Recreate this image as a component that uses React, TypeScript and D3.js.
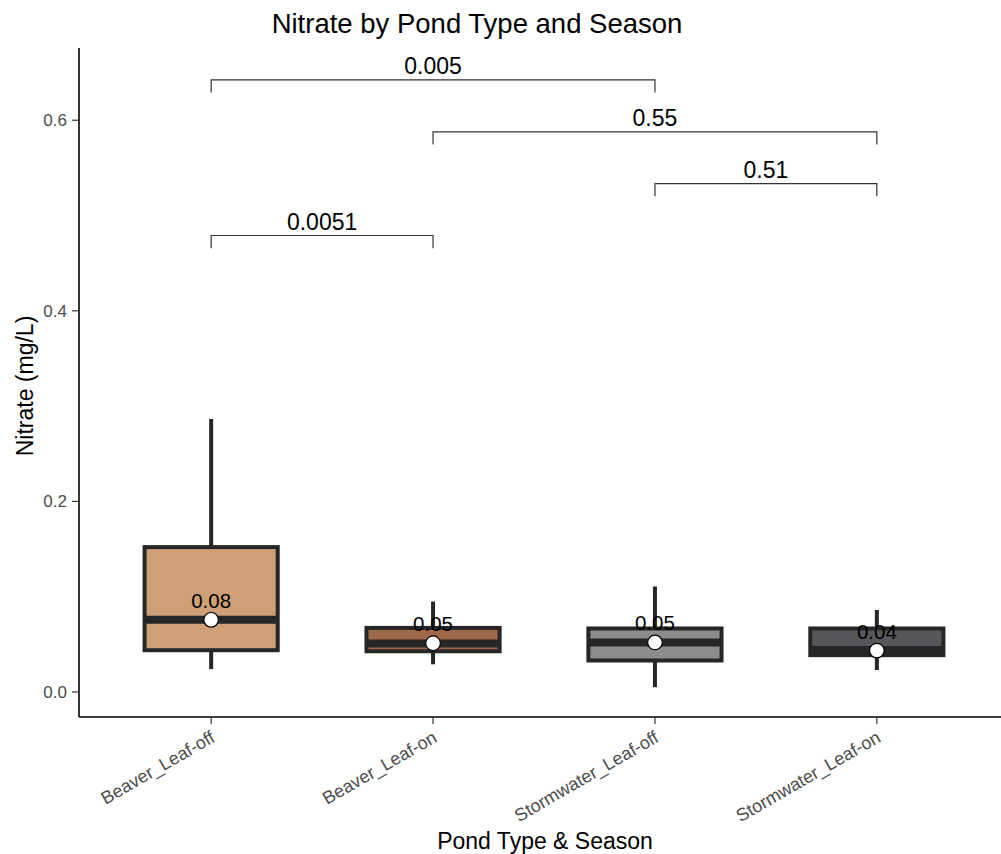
import React from "react";
import * as d3 from "d3";

const categories = ["Beaver_Leaf-off", "Beaver_Leaf-on", "Stormwater_Leaf-off", "Stormwater_Leaf-on"];
const fills = ["#CFA077", "#A0694A", "#8C8C8E", "#57575B"];
const whiskerLow = [0.024, 0.029, 0.005, 0.023];
const q1 = [0.0438, 0.0427, 0.033, 0.0386];
const median = [0.0757, 0.0508, 0.052, 0.044];
const q3 = [0.152, 0.0672, 0.0666, 0.0666];
const whiskerHigh = [0.2865, 0.0949, 0.1107, 0.086];
const means = [0.0757, 0.0511, 0.052, 0.0434];
const meanLabels = ["0.08", "0.05", "0.05", "0.04"];

const comparisons = [
  { a: 0, b: 2, y: 0.6423, label: "0.005" },
  { a: 1, b: 3, y: 0.5877, label: "0.55" },
  { a: 2, b: 3, y: 0.5334, label: "0.51" },
  { a: 0, b: 1, y: 0.479, label: "0.0051" },
];
const yTicks = [0, 0.2, 0.4, 0.6];

export default function App() {
  const W = 1001, H = 854;
  const left = 79, right = 1011, top = 48, bottom = 717;
  const x = d3.scaleBand<string>().domain(categories).range([left, right]).paddingOuter(0.1).paddingInner(0);
  const bw = x.bandwidth();
  const cx = (i: number) => (x(categories[i]) as number) + bw / 2 - 1;
  const y = d3.scaleLinear().domain([-0.0263, 0.6758]).range([bottom, top]);
  const boxW = bw * 0.6;
  const font = "'Liberation Sans', Arial, Helvetica, sans-serif";
  const dark = "#262626";

  return (
    <svg width={W} height={H} style={{ position: "absolute", left: 0, top: 0, fontFamily: font }}>
      <rect width={W} height={H} fill="white" />
      <text x={477} y={33} textAnchor="middle" fontSize={27.5} fill="#000">Nitrate by Pond Type and Season</text>

      {/* boxes */}
      {categories.map((c, i) => {
        const xc = cx(i);
        return (
          <g key={c}>
            <line x1={xc} x2={xc} y1={y(whiskerHigh[i])} y2={y(q3[i])} stroke={dark} strokeWidth={4} />
            <line x1={xc} x2={xc} y1={y(q1[i])} y2={y(whiskerLow[i])} stroke={dark} strokeWidth={4} />
            <rect x={xc - boxW / 2} y={y(q3[i])} width={boxW} height={y(q1[i]) - y(q3[i])} fill={fills[i]} stroke={dark} strokeWidth={4} />
            <line x1={xc - boxW / 2} x2={xc + boxW / 2} y1={y(median[i])} y2={y(median[i])} stroke={dark} strokeWidth={8} />
            <text x={xc} y={y(means[i]) - 12} textAnchor="middle" fontSize={20.5} fill="#000">{meanLabels[i]}</text>
            <circle cx={xc} cy={y(means[i])} r={7.3} fill="white" stroke="#000" strokeWidth={1.2} />
          </g>
        );
      })}

      {/* brackets */}
      {comparisons.map((cmp, k) => {
        const x1 = cx(cmp.a), x2 = cx(cmp.b);
        const yy = y(cmp.y);
        const tick = y(cmp.y - 0.0133) - yy;
        return (
          <g key={k}>
            <path d={`M${x1},${yy + tick}V${yy}H${x2}V${yy + tick}`} fill="none" stroke="#333" strokeWidth={1.2} />
            <text x={(x1 + x2) / 2} y={yy - 5.5} textAnchor="middle" fontSize={23} fill="#000">{cmp.label}</text>
          </g>
        );
      })}

      {/* y axis */}
      <line x1={left} x2={left} y1={top} y2={bottom} stroke="#000" strokeWidth={1.6} />
      {yTicks.map((t) => (
        <g key={t}>
          <line x1={left - 7} x2={left} y1={y(t)} y2={y(t)} stroke="#333" strokeWidth={1.2} />
          <text x={left - 12} y={y(t) + 6} textAnchor="end" fontSize={17} fill="#4D4D4D">{t.toFixed(1)}</text>
        </g>
      ))}
      <text transform={`translate(33,386) rotate(-90)`} textAnchor="middle" fontSize={23} fill="#000">Nitrate (mg/L)</text>

      {/* x axis */}
      <line x1={left} x2={W} y1={bottom} y2={bottom} stroke="#000" strokeWidth={1.6} />
      {categories.map((c, i) => (
        <g key={c}>
          <line x1={cx(i)} x2={cx(i)} y1={bottom} y2={bottom + 7} stroke="#333" strokeWidth={1.2} />
          <text transform={`translate(${cx(i) + 5},${bottom + 24}) rotate(-30)`} textAnchor="end" fontSize={18} fill="#4D4D4D">{c}</text>
        </g>
      ))}
      <text x={545} y={849} textAnchor="middle" fontSize={23} fill="#000">Pond Type &amp; Season</text>
    </svg>
  );
}
